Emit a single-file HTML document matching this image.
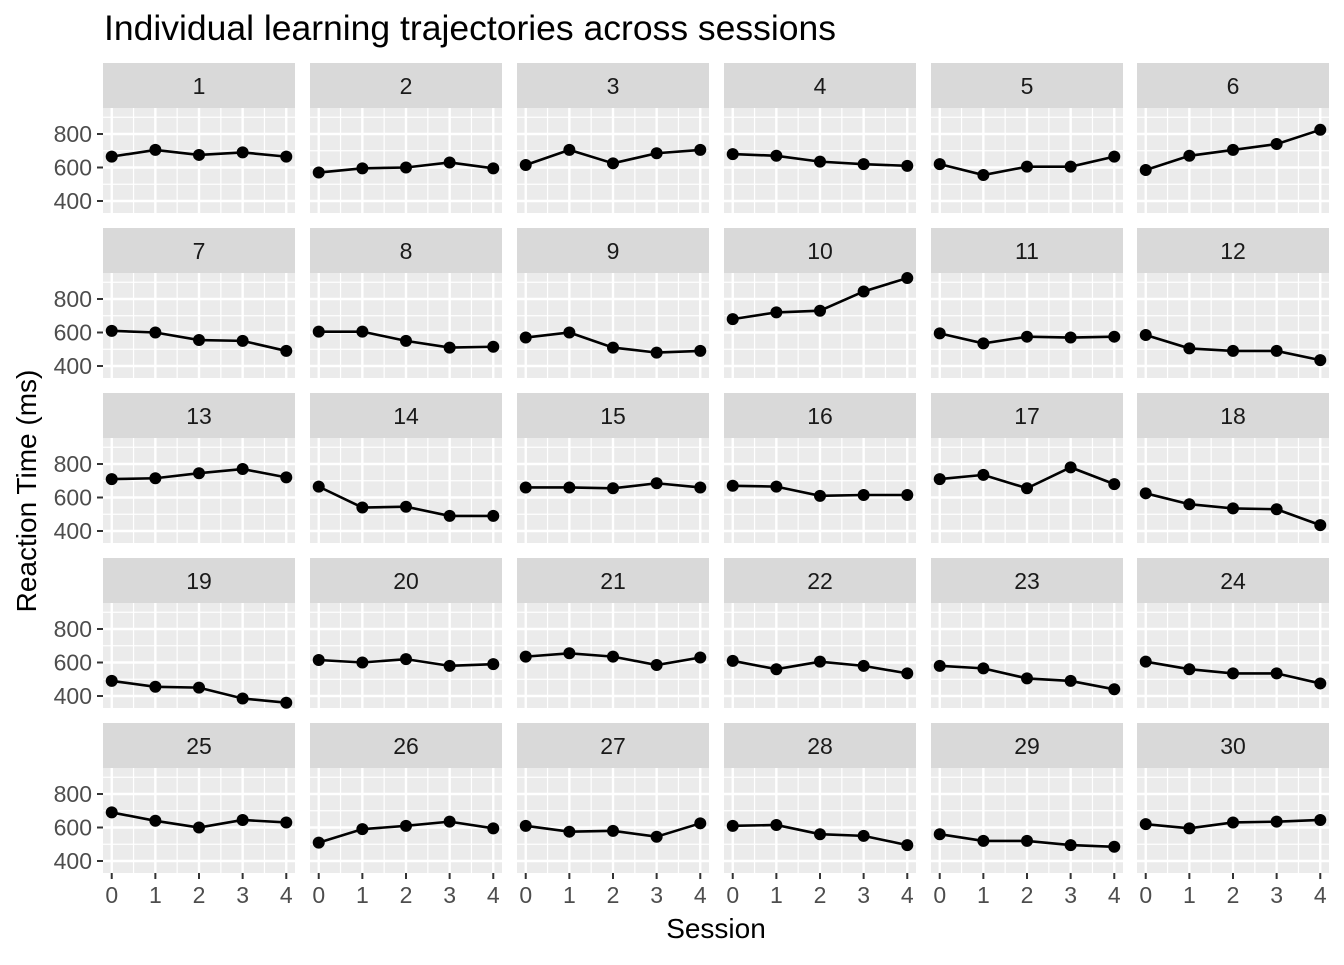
<!DOCTYPE html>
<html><head><meta charset="utf-8"><style>
body{margin:0;background:#fff}
svg text{font-family:"Liberation Sans",sans-serif}
</style></head><body>
<svg id="chart" width="1344" height="960" xmlns="http://www.w3.org/2000/svg">
<text x="104" y="40" font-size="35.5" fill="#000">Individual learning trajectories across sessions</text>
<text x="716" y="938" font-size="28" text-anchor="middle" fill="#000">Session</text>
<text transform="translate(36,491) rotate(-90)" font-size="28" text-anchor="middle" fill="#000">Reaction Time (ms)</text>
<g id="panels"></g>
</svg>
<script>
const sessions=[0,1,2,3,4];
const yTicks=[400,600,800];
const yMinor=[300,500,700,900];
const s1=[665,705,675,690,665],s2=[570,595,600,630,595],s3=[615,705,625,685,705],s4=[680,670,635,620,610],s5=[620,555,605,605,665],s6=[585,670,705,740,825];
const s7=[610,600,555,550,490],s8=[605,605,550,510,515],s9=[570,600,510,480,490],s10=[680,720,730,845,925],s11=[595,535,575,570,575],s12=[585,505,490,490,435];
const s13=[710,715,745,770,720],s14=[665,540,545,490,490],s15=[660,660,655,685,660],s16=[670,665,610,615,615],s17=[710,735,655,780,680],s18=[625,560,535,530,435];
const s19=[490,455,450,385,360],s20=[615,600,620,580,590],s21=[635,655,635,585,630],s22=[610,560,605,580,535],s23=[580,565,505,490,440],s24=[605,560,535,535,475];
const s25=[690,640,600,645,630],s26=[510,590,610,635,595],s27=[610,575,580,545,625],s28=[610,615,560,550,495],s29=[560,520,520,495,485],s30=[620,595,630,635,645];
const series=[s1,s2,s3,s4,s5,s6,s7,s8,s9,s10,s11,s12,s13,s14,s15,s16,s17,s18,s19,s20,s21,s22,s23,s24,s25,s26,s27,s28,s29,s30];
const NS="http://www.w3.org/2000/svg";
const g=document.getElementById('panels');
const colX=[103,310,517,724,931,1137],PW=192,PH=105,SH=45,rowY0=63,rowStep=165;
const yLo=328.4,yHi=955.2,xLo=-0.2,xHi=4.2;
function mk(t,a){const e=document.createElementNS(NS,t);for(const k in a)e.setAttribute(k,a[k]);return e;}
series.forEach((d,i)=>{
 const c=i%6,r=Math.floor(i/6);
 const px=colX[c],sy=rowY0+r*rowStep,py=sy+SH;
 const X=v=>px+(v-xLo)/(xHi-xLo)*PW;
 const Y=v=>py+PH-(v-yLo)/(yHi-yLo)*PH;
 const strip=mk('rect',{x:px,y:sy,width:PW,height:SH,fill:'#d9d9d9'});
 
 
 g.appendChild(strip);
 const st=mk('text',{x:px+PW/2,y:sy+31,'font-size':23,'text-anchor':'middle',fill:'#1a1a1a'});st.textContent=i+1;
 
 
 g.appendChild(st);
 const bg=mk('rect',{x:px,y:py,width:PW,height:PH,fill:'#ebebeb'});
 
 
 g.appendChild(bg);
 yMinor.forEach(v=>{const yy=Y(v);if(yy>py&&yy<py+PH)g.appendChild(mk('line',{x1:px,x2:px+PW,y1:yy,y2:yy,stroke:'#fff','stroke-width':1.2}));});
 [0.5,1.5,2.5,3.5].forEach(v=>g.appendChild(mk('line',{x1:X(v),x2:X(v),y1:py,y2:py+PH,stroke:'#fff','stroke-width':1.2})));
 yTicks.forEach(v=>g.appendChild(mk('line',{x1:px,x2:px+PW,y1:Y(v),y2:Y(v),stroke:'#fff','stroke-width':2.4})));
 sessions.forEach(v=>g.appendChild(mk('line',{x1:X(v),x2:X(v),y1:py,y2:py+PH,stroke:'#fff','stroke-width':2.4})));
 const line=mk('polyline',{points:sessions.map((s,j)=>X(s)+','+Y(d[j])).join(' '),fill:'none',stroke:'#000','stroke-width':2.6});
 
 
 g.appendChild(line);
 sessions.forEach((s,j)=>{const p=mk('circle',{cx:X(s),cy:Y(d[j]),r:6,fill:'#000'});
  
  
  g.appendChild(p);});
 if(c===0){yTicks.forEach(v=>{
  g.appendChild(mk('line',{x1:px-6,x2:px,y1:Y(v),y2:Y(v),stroke:'#333','stroke-width':2}));
  const t=mk('text',{x:px-11,y:Y(v)+8,'font-size':23,'text-anchor':'end',fill:'#4d4d4d'});t.textContent=v;
  
  
  g.appendChild(t);});}
 if(r===4){sessions.forEach(v=>{
  g.appendChild(mk('line',{x1:X(v),x2:X(v),y1:py+PH,y2:py+PH+6,stroke:'#333','stroke-width':2}));
  const t=mk('text',{x:X(v),y:py+PH+30,'font-size':23,'text-anchor':'middle',fill:'#4d4d4d'});t.textContent=v;
  
  
  g.appendChild(t);});}
});
</script>
</body></html>
